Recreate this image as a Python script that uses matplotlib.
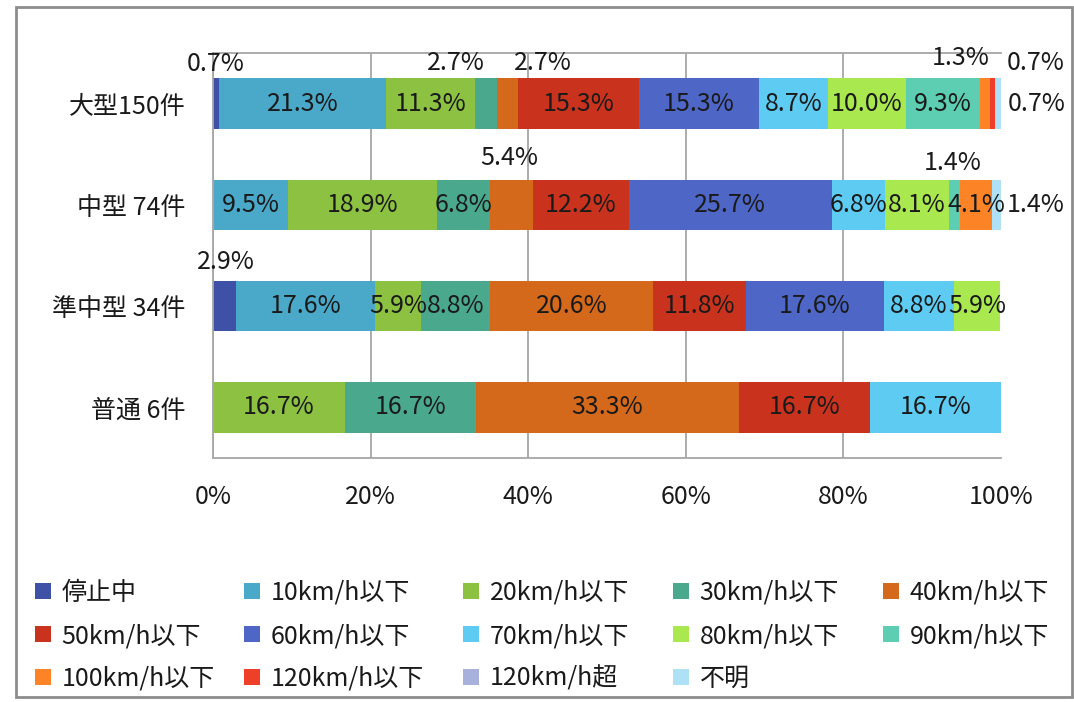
import matplotlib
matplotlib.use("Agg")
import matplotlib.pyplot as plt
from matplotlib.patches import Rectangle, Patch
import numpy as np

plt.rcParams["font.family"] = ["Noto Sans CJK JP", "DejaVu Sans"]

# ---- data -------------------------------------------------------------
categories = ["大型150件", "中型 74件", "準中型 34件", "普通 6件"]
speed_classes = ["停止中", "10km/h以下", "20km/h以下", "30km/h以下", "40km/h以下",
                 "50km/h以下", "60km/h以下", "70km/h以下", "80km/h以下", "90km/h以下",
                 "100km/h以下", "120km/h以下", "120km/h超", "不明"]
large = [0.7, 21.3, 11.3, 2.7, 2.7, 15.3, 15.3, 8.7, 10.0, 9.3, 1.3, 0.7, 0, 0.7]
medium = [0, 9.5, 18.9, 6.8, 5.4, 12.2, 25.7, 6.8, 8.1, 1.4, 4.1, 0, 0, 1.4]
semi_medium = [2.9, 17.6, 5.9, 8.8, 20.6, 11.8, 17.6, 8.8, 5.9, 0, 0, 0, 0, 0]
ordinary = [0, 0, 16.7, 16.7, 33.3, 16.7, 0, 16.7, 0, 0, 0, 0, 0, 0]
x_ticks = [0, 20, 40, 60, 80, 100]
x_tick_labels = ["0%", "20%", "40%", "60%", "80%", "100%"]

# ---- style ------------------------------------------------------------
colors = ["#3f51a6", "#4aa8c9", "#8cc141", "#4aa98c", "#d5691b",
          "#c9331d", "#4e66c6", "#5ecbf2", "#a9e84f", "#5dceb1",
          "#fd8426", "#ee3f28", "#a8b0dc", "#aee0f6"]
text_color = "#1a1a1a"
grid_color = "#a6a6a6"

# labels of thin segments sit outside the bar: (row, class index) -> pixel offset
outside_offsets = {
    (0, 0): (0, 40),
    (0, 3): (-30, 41),
    (0, 4): (36, 41),
    (0, 10): (-24, 46),
    (0, 11): (43, 41),
    (0, 13): (38, 0),
    (1, 4): (-2, 47),
    (1, 9): (-2, 42),
    (1, 13): (38, 0),
    (2, 0): (1, 44),
}

W, H = 1074, 702
fig = plt.figure(figsize=(W / 100, H / 100), dpi=100)
ax = fig.add_axes([213 / W, 1 - 458 / H, (1001 - 213) / W, (458 - 53) / H])

rows = np.array([large, medium, semi_medium, ordinary])
y = np.arange(len(categories))
left = np.zeros(len(categories))
for j, name in enumerate(speed_classes):
    vals = rows[:, j]
    ax.barh(y, vals, left=left, height=0.5, color=colors[j], label=name, zorder=2)
    for i, v in enumerate(vals):
        if v <= 0:
            continue
        cx = left[i] + v / 2
        dx, dy = outside_offsets.get((i, j), (0, 0))
        ax.annotate(f"{v:.1f}%", xy=(cx, y[i]), xytext=(dx, dy),
                    textcoords="offset pixels", ha="center", va="center",
                    fontsize=18, color=text_color, zorder=4,
                    annotation_clip=False)
    left += vals

ax.set_xlim(0, 100)
ax.set_ylim(len(categories) - 0.5, -0.5)
ax.set_yticks(y)
ax.set_yticklabels(categories)
ax.set_xticks(x_ticks)
ax.set_xticklabels(x_tick_labels)
ax.tick_params(axis="x", length=0, pad=19, labelsize=18, colors=text_color)
ax.tick_params(axis="y", length=0, pad=20, labelsize=18, colors=text_color)

ax.set_axisbelow(True)
ax.xaxis.grid(True, color=grid_color, lw=1.3)
ax.get_xgridlines()[-1].set_visible(False)
for side in ("left", "bottom", "top"):
    ax.spines[side].set_color(grid_color)
    ax.spines[side].set_linewidth(1.3)
ax.spines["right"].set_visible(False)

# legend: five evenly spaced columns, filled row by row
handles = [Patch(facecolor=c, edgecolor="none") for c in colors]
column_x = [35, 244, 463, 673, 883]
n_cols = len(column_x)
for c, x0 in enumerate(column_x):
    idx = list(range(c, len(speed_classes), n_cols))
    leg = fig.legend([handles[k] for k in idx], [speed_classes[k] for k in idx],
                     loc="upper left", bbox_to_anchor=(x0 / W, 1 - 580 / H),
                     frameon=False, fontsize=18, handlelength=0.62,
                     handleheight=0.62, handletextpad=0.45, labelspacing=0.68,
                     borderpad=0, borderaxespad=0, labelcolor=text_color)

# outer chart border
fig.add_artist(Rectangle((16 / W, 1 - 697 / H), (1072 - 16) / W, (697 - 7) / H,
                         transform=fig.transFigure, fill=False,
                         edgecolor="#8c8c8c", lw=2))

fig.savefig("out.png", dpi=100, facecolor="white")
